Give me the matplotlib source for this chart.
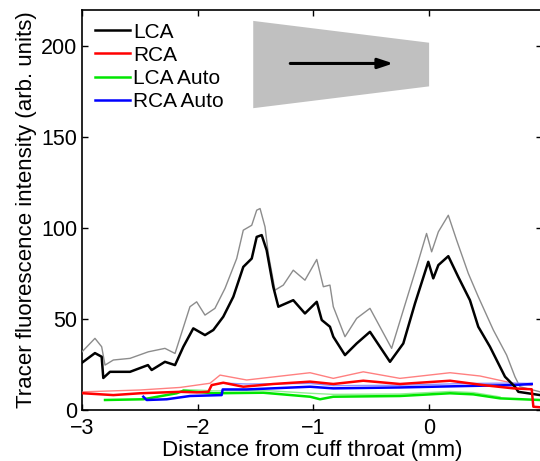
"""Tracer fluorescence intensity along the cuff"""

import matplotlib.pyplot as plt
from matplotlib.patches import Polygon

# LCA (thick black) and its upper band (thin grey)
lca_x = [-3.0, -2.888, -2.830, -2.816, -2.758, -2.585, -2.430, -2.398, -2.283, -2.196,
         -2.124, -2.038, -1.937, -1.865, -1.779, -1.692, -1.606, -1.533, -1.490, -1.447,
         -1.404, -1.347, -1.303, -1.174, -1.073, -0.971, -0.928, -0.857, -0.828, -0.727,
         -0.626, -0.511, -0.338, -0.223, -0.122, -0.007, 0.036, 0.080, 0.166, 0.252,
         0.353, 0.425, 0.526, 0.656, 0.742, 0.771, 0.96]
lca_y = [26, 31.3, 29.3, 17.6, 21, 21, 24.7, 22, 26.5, 24.7,
         34.8, 44.9, 41.2, 44, 51.3, 62.3, 78.7, 83.3, 95.2, 96.2,
         87.9, 67.8, 56.8, 60.4, 53.1, 59.5, 49.5, 45.8, 40.3, 30.2,
         36.6, 43, 26.5, 36.6, 58.6, 81.5, 72.4, 79.7, 84.6, 73.2,
         60.4, 45.8, 34.8, 18.3, 12.8, 10, 8.2]
lca_hi_x = [-3.0, -2.888, -2.830, -2.801, -2.729, -2.585, -2.427, -2.283, -2.196, -2.067,
            -2.009, -1.937, -1.851, -1.764, -1.663, -1.606, -1.533, -1.490, -1.461, -1.418,
            -1.390, -1.332, -1.260, -1.174, -1.073, -0.971, -0.914, -0.857, -0.828, -0.727,
            -0.626, -0.511, -0.324, -0.223, -0.108, -0.022, 0.022, 0.080, 0.166, 0.238,
            0.339, 0.425, 0.555, 0.670, 0.742, 0.785, 0.96]
lca_hi_y = [32, 39.4, 34.8, 24.7, 27.5, 28.4, 32, 33.9, 31.1, 56.8,
            59.5, 52.2, 55.9, 66.9, 83.3, 98.9, 101.6, 109.9, 110.8, 100.7,
            86.1, 65.9, 68.7, 76.9, 71.4, 82.8, 67.8, 68.7, 56.8, 40.3,
            50.4, 55.9, 33.9, 54.9, 78.7, 97.1, 87, 98, 107.1, 93.4,
            75.1, 62.3, 44, 30.2, 18.3, 12.8, 10]

# RCA (red) and its upper band
rca_x = [-2.989, -2.729, -2.499, -2.153, -2.009, -1.908, -1.879, -1.779, -1.606, -1.347,
         -1.029, -0.828, -0.569, -0.252, 0.181, 0.468, 0.728, 0.887, 0.901, 0.96]
rca_y = [9.2, 8.2, 9.2, 10, 9.7, 10, 13.7, 15, 12.8, 14.3,
         15.6, 14.3, 16.1, 14.3, 16.1, 13.7, 11.9, 11.4, 1.8, 1.5]
rca_hi_x = [-2.989, -2.499, -2.153, -1.894, -1.807, -1.577, -1.029, -0.828, -0.569, -0.252,
            0.181, 0.440, 0.728, 0.887]
rca_hi_y = [10, 11, 12.4, 14.7, 19.2, 16.5, 20.5, 17.4, 21, 17.4,
            20.5, 18.7, 14.7, 13.5]

# LCA Auto (green) and its upper band
lauto_x = [-2.801, -2.470, -2.182, -2.124, -2.009, -1.865, -1.433, -1.029, -0.943, -0.828,
           -0.252, 0.181, 0.382, 0.613, 0.96]
lauto_y = [5.5, 5.9, 9.2, 10.6, 10, 9.2, 9.5, 7.3, 5.9, 7.3,
           7.7, 9.2, 8.6, 6.4, 5.5]
lauto_hi_x = [-2.124, -2.009, -1.865, -1.433, -1.029, -0.828, -0.252, 0.181, 0.382, 0.613]
lauto_hi_y = [11.2, 11, 10.5, 10.8, 9.2, 8.6, 8.8, 10.2, 9.6, 7.2]

# RCA Auto (blue) and its upper band
rauto_x = [-2.470, -2.441, -2.268, -2.067, -1.793, -1.784, -1.577, -1.029, -0.828, -0.252,
           0.325, 0.728, 0.887]
rauto_y = [7.3, 5.5, 5.9, 7.7, 8.2, 11.3, 11.3, 12.8, 11.9, 12.4,
           13.2, 13.7, 14.3]
rauto_hi_x = [-1.784, -1.577, -1.029, -0.828, -0.252, 0.325, 0.728, 0.887]
rauto_hi_y = [14.8, 14.3, 14.6, 13.4, 13.6, 14.6, 14.8, 14.6]

# cuff sketch (trapezoid) and flow arrow
cuff_x = [-1.52, 0.0, 0.0, -1.52]
cuff_y = [214, 202, 178, 166]
arrow_x = [-1.20, -0.31]
arrow_y = 190.6


def create_chart(ax):
    ax.plot(lca_hi_x, lca_hi_y, color="#8c8c8c", linewidth=1.0, zorder=3)
    ax.plot(rca_hi_x, rca_hi_y, color="#ff8080", linewidth=1.0, zorder=3)
    ax.plot(lauto_hi_x, lauto_hi_y, color="#90f090", linewidth=1.0, zorder=3)
    ax.plot(rauto_hi_x, rauto_hi_y, color="#9090ff", linewidth=1.0, zorder=3)

    ax.plot(lca_x, lca_y, color="black", linewidth=1.8, label="LCA", zorder=5)
    ax.plot(rca_x, rca_y, color="#ff0000", linewidth=1.8, label="RCA", zorder=5)
    ax.plot(lauto_x, lauto_y, color="#00e600", linewidth=1.8, label="LCA Auto", zorder=4)
    ax.plot(rauto_x, rauto_y, color="#0000ff", linewidth=1.8, label="RCA Auto", zorder=4)

    # cuff and arrow
    ax.add_patch(Polygon(list(zip(cuff_x, cuff_y)), closed=True,
                         facecolor="#c0c0c0", edgecolor="none", zorder=1))
    ax.annotate("", xy=(arrow_x[1], arrow_y), xytext=(arrow_x[0], arrow_y),
                arrowprops=dict(arrowstyle="-|>,head_length=0.9,head_width=0.3",
                                color="black", lw=2.2, shrinkA=0, shrinkB=0),
                zorder=2)

    ax.set_xlim(-3, -3 + 460 / 115.7)
    ax.set_ylim(0, 220)
    ax.set_xticks([-3, -2, -1, 0])
    ax.set_yticks([0, 50, 100, 150, 200])
    ax.tick_params(direction="in", length=4, width=1, labelsize=15.5,
                   top=True, right=True, pad=3.5)
    ax.tick_params(axis="x", pad=5.5)
    for sp in ax.spines.values():
        sp.set_linewidth(1.2)

    ax.set_xlabel("Distance from cuff throat (mm)", fontsize=16, labelpad=1)
    ax.set_ylabel("Tracer fluorescence intensity (arb. units)", fontsize=16, labelpad=3)

    ax.legend(loc="upper left", bbox_to_anchor=(0.0, 1.0), frameon=False,
              fontsize=15, handlelength=1.7, handletextpad=0.15,
              labelspacing=0.2, borderaxespad=0.2)


if __name__ == "__main__":
    plt.rcParams["font.family"] = ["Liberation Sans", "DejaVu Sans"]
    fig = plt.figure(figsize=(5.4, 4.61), dpi=100)
    ax = fig.add_axes([82 / 540, 51 / 461, 460 / 540, 400 / 461])
    create_chart(ax)
    fig.savefig("out.png", dpi=100)
